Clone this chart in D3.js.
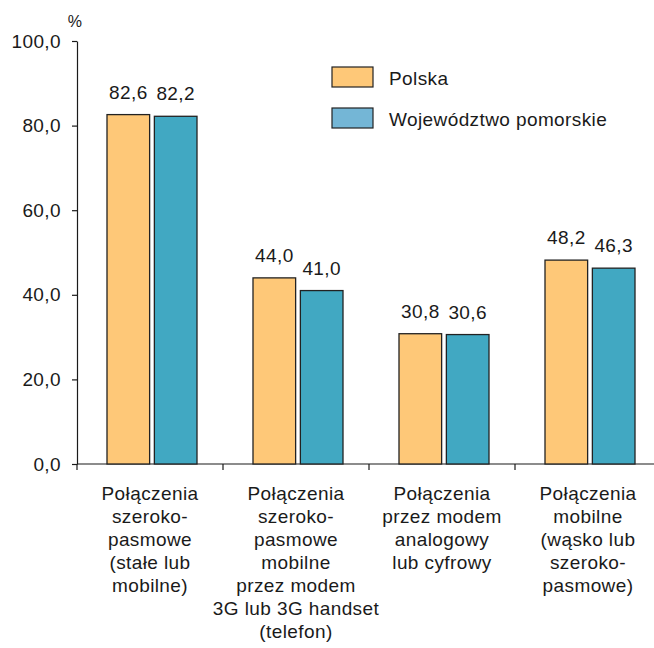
<!DOCTYPE html>
<html>
<head>
<meta charset="utf-8">
<script src="https://cdn.jsdelivr.net/npm/d3@7"></script>
<style>
  body { margin: 0; background: #fff; }
  text { font-family: "Liberation Sans", Arial, sans-serif; fill: #1a1a1a; letter-spacing: 0.4px; }
</style>
</head>
<body>
<svg width="654" height="648"></svg>
<script>
var categories = [
  ["Połączenia", "szeroko-", "pasmowe", "(stałe lub", "mobilne)"],
  ["Połączenia", "szeroko-", "pasmowe", "mobilne", "przez modem", "3G lub 3G handset", "(telefon)"],
  ["Połączenia", "przez modem", "analogowy", "lub cyfrowy"],
  ["Połączenia", "mobilne", "(wąsko lub", "szeroko-", "pasmowe)"]
];
var series = ["Polska", "Województwo pomorskie"];
var polska = [82.6, 44.0, 30.8, 48.2];
var pomorskie = [82.2, 41.0, 30.6, 46.3];
var yTicks = [0, 20, 40, 60, 80, 100];

var barColors = ["#fec878", "#41a8c2"];
var legendColors = ["#fec878", "#74b6d6"];

var svg = d3.select("svg");
var x0 = 77, yBottom = 464, yTop = 41;

var x = d3.scaleBand()
    .domain(d3.range(categories.length))
    .range([x0, x0 + 4 * 146])
    .padding(0);

var x1 = d3.scaleBand()
    .domain(series)
    .range([30, 120])
    .paddingInner(0.1);

var y = d3.scaleLinear()
    .domain([0, 100])
    .range([yBottom, yTop]);

var fmt = function(v) { return d3.format(".1f")(v).replace(".", ","); };

// y axis
var yAxis = svg.append("g")
    .attr("transform", "translate(" + x0 + ",0)")
    .call(d3.axisLeft(y).tickValues(yTicks).tickSize(5).tickSizeOuter(0).tickFormat(fmt));
yAxis.select(".domain").attr("stroke", "#1a1a1a").attr("stroke-width", 1.2);
yAxis.selectAll(".tick line").attr("stroke", "#1a1a1a").attr("stroke-width", 1.2);
yAxis.selectAll(".tick text")
    .attr("x", -16)
    .style("font-size", "19px")
    .attr("fill", "#1a1a1a");

svg.append("text")
    .attr("x", 75)
    .attr("y", 27)
    .attr("text-anchor", "middle")
    .style("font-size", "16px")
    .text("%");

// x axis line with ticks at category boundaries
svg.append("line")
    .attr("x1", x0).attr("x2", 654)
    .attr("y1", yBottom).attr("y2", yBottom)
    .attr("stroke", "#1a1a1a").attr("stroke-width", 1.2);

svg.selectAll(".xtick")
  .data(d3.range(0, categories.length))
  .enter().append("line")
    .attr("class", "xtick")
    .attr("x1", function(d) { return x(d); })
    .attr("x2", function(d) { return x(d); })
    .attr("y1", yBottom).attr("y2", yBottom + 6)
    .attr("stroke", "#1a1a1a").attr("stroke-width", 1.2);

// bars
var data = categories.map(function(c, i) {
  return [
    { s: series[0], v: polska[i], c: 0 },
    { s: series[1], v: pomorskie[i], c: 1 }
  ];
});

var groups = svg.selectAll(".grp")
  .data(data)
  .enter().append("g")
    .attr("class", "grp")
    .attr("transform", function(d, i) { return "translate(" + x(i) + ",0)"; });

groups.selectAll("rect")
  .data(function(d) { return d; })
  .enter().append("rect")
    .attr("x", function(d) { return x1(d.s); })
    .attr("width", x1.bandwidth())
    .attr("y", function(d) { return y(d.v); })
    .attr("height", function(d) { return y(0) - y(d.v); })
    .attr("fill", function(d) { return barColors[d.c]; })
    .attr("stroke", "#222")
    .attr("stroke-width", 1.3);

groups.selectAll(".val")
  .data(function(d) { return d; })
  .enter().append("text")
    .attr("class", "val")
    .attr("x", function(d) { return x1(d.s) + x1.bandwidth() / 2; })
    .attr("y", function(d) { return y(d.v) - 16; })
    .attr("text-anchor", "middle")
    .style("font-size", "19px")
    .text(function(d) { return fmt(d.v); });

// category labels
var labels = svg.selectAll(".cat")
  .data(categories)
  .enter().append("text")
    .attr("class", "cat")
    .attr("text-anchor", "middle")
    .style("font-size", "19px")
    .attr("transform", function(d, i) { return "translate(" + (x(i) + x.bandwidth() / 2) + "," + (yBottom + 36) + ")"; });

labels.selectAll("tspan")
  .data(function(d) { return d; })
  .enter().append("tspan")
    .attr("x", 0)
    .attr("y", function(d, i) { return i * 23; })
    .text(function(d) { return d; });

// legend
var legend = svg.selectAll(".leg")
  .data(series)
  .enter().append("g")
    .attr("class", "leg")
    .attr("transform", function(d, i) { return "translate(332," + (67 + i * 41) + ")"; });

legend.append("rect")
    .attr("width", 41)
    .attr("height", 20)
    .attr("fill", function(d, i) { return legendColors[i]; })
    .attr("stroke", "#222")
    .attr("stroke-width", 1.2);

legend.append("text")
    .attr("x", 57)
    .attr("y", 18)
    .style("font-size", "19px")
    .text(function(d) { return d; });
</script>
</body>
</html>
